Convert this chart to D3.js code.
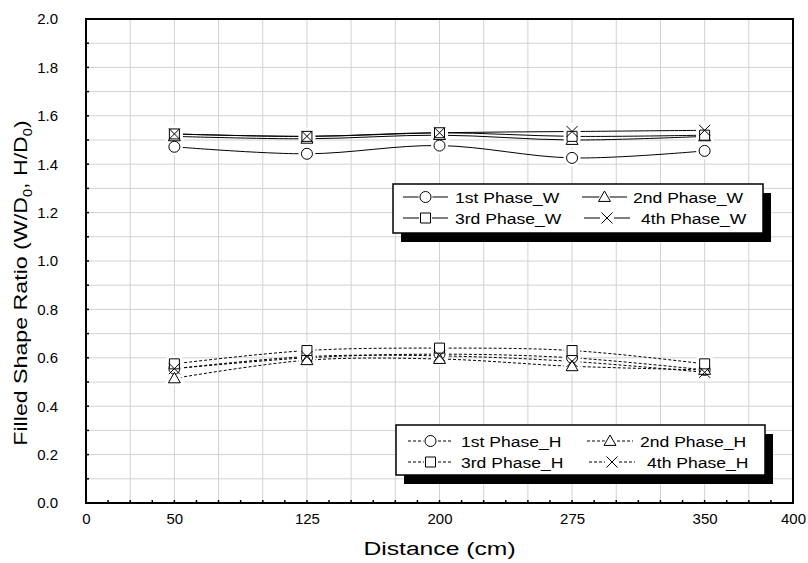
<!DOCTYPE html>
<html><head><meta charset="utf-8">
<script src="https://cdn.jsdelivr.net/npm/d3@7"></script>
<style>body{margin:0;background:#fff}</style>
</head><body>
<svg id="chart" width="808" height="563"></svg>
<script>
const distances = [50, 125, 200, 275, 350];
const phaseW1 = [1.472, 1.443, 1.477, 1.426, 1.455];
const phaseW2 = [1.515, 1.505, 1.520, 1.500, 1.515];
const phaseW3 = [1.525, 1.515, 1.530, 1.515, 1.520];
const phaseW4 = [1.525, 1.515, 1.530, 1.535, 1.540];
const phaseH1 = [0.555, 0.600, 0.615, 0.600, 0.550];
const phaseH2 = [0.515, 0.590, 0.595, 0.565, 0.550];
const phaseH3 = [0.575, 0.630, 0.640, 0.630, 0.575];
const phaseH4 = [0.555, 0.605, 0.608, 0.585, 0.540];
const seriesNames = ["1st Phase_W","2nd Phase_W","3rd Phase_W","4th Phase_W","1st Phase_H","2nd Phase_H","3rd Phase_H","4th Phase_H"];
const xTickLabels = [0, 50, 125, 200, 275, 350, 400];
const yTickLabels = [0.0, 0.2, 0.4, 0.6, 0.8, 1.0, 1.2, 1.4, 1.6, 1.8, 2.0];

const svg = d3.select("#chart");
const L = 86, R = 793, T = 19, B = 503;
const x = d3.scaleLinear().domain([0, 400]).range([L, R]);
const y = d3.scaleLinear().domain([0, 2]).range([B, T]);
const FONT = "Liberation Sans, Arial, sans-serif";

// grid
const g = svg.append("g");
g.selectAll(".vg").data(d3.range(25, 400, 25)).join("line")
  .attr("x1", d => x(d)).attr("x2", d => x(d)).attr("y1", T).attr("y2", B)
  .attr("stroke", "#d2d2d2").attr("stroke-width", 1);
g.selectAll(".hg").data(d3.range(1, 20).map(i => i / 10)).join("line")
  .attr("y1", d => y(d)).attr("y2", d => y(d)).attr("x1", L).attr("x2", R)
  .attr("stroke", "#d2d2d2").attr("stroke-width", 1);

// axes
const xAxis = d3.axisBottom(x).tickValues(xTickLabels).tickFormat(d3.format("d")).tickSize(0).tickPadding(10);
const xa = svg.append("g").attr("transform", `translate(0,${B})`).call(xAxis);
xa.select(".domain").remove();
xa.selectAll("text").attr("font-family", FONT).attr("font-size", 15).attr("fill", "#000");
const yAxis = d3.axisLeft(y).tickValues(yTickLabels).tickFormat(d3.format(".1f")).tickSize(0).tickPadding(28);
const ya = svg.append("g").attr("transform", `translate(${L},0)`).call(yAxis);
ya.select(".domain").remove();
ya.selectAll("text").attr("font-family", FONT).attr("font-size", 15).attr("fill", "#000");

// small inner ticks
svg.append("g").selectAll("line").data(d3.range(1, 32).map(i => i * 12.5)).join("line")
  .attr("x1", d => x(d)).attr("x2", d => x(d)).attr("y1", B).attr("y2", B - 3)
  .attr("stroke", "#000").attr("stroke-width", 1.5);
svg.append("g").selectAll("line").data(d3.range(1, 20).map(i => i / 10)).join("line")
  .attr("y1", d => y(d)).attr("y2", d => y(d)).attr("x1", L).attr("x2", L + 3)
  .attr("stroke", "#000").attr("stroke-width", 1.5);

svg.append("rect").attr("x", L).attr("y", T).attr("width", R - L).attr("height", B - T)
  .attr("fill", "none").attr("stroke", "#000").attr("stroke-width", 2);

// titles
svg.append("text").attr("transform", `translate(${(L + R) / 2},555) scale(1.3,1)`).attr("text-anchor", "middle")
  .attr("font-family", FONT).attr("font-size", 19).text("Distance (cm)");
const yt = svg.append("text").attr("transform", `translate(27,${(T + B) / 2 + 22}) rotate(-90) scale(1.22,1)`)
  .attr("text-anchor", "middle").attr("font-family", FONT).attr("font-size", 19);
yt.append("tspan").text("Filled Shape Ratio (W/D");
yt.append("tspan").attr("font-size", 12).attr("dy", 5).text("0");
yt.append("tspan").attr("dy", -5).text(", H/D");
yt.append("tspan").attr("font-size", 12).attr("dy", 5).text("0");
yt.append("tspan").attr("dy", -5).text(")");

// markers
function markerPath(type, s) {
  if (type === "circle") return d3.symbol(d3.symbolCircle, Math.PI * s * s)();
  if (type === "square") return `M${-s},${-s}H${s}V${s}H${-s}Z`;
  if (type === "triangle") return `M0,${-s * 1.15}L${s * 1.15},${s * 0.85}L${-s * 1.15},${s * 0.85}Z`;
  if (type === "x") return `M${-s},${-s}L${s},${s}M${-s},${s}L${s},${-s}`;
}
const types = ["circle", "triangle", "square", "x"];
const allSeries = [phaseW1, phaseW2, phaseW3, phaseW4, phaseH1, phaseH2, phaseH3, phaseH4].map((vals, i) => ({
  name: seriesNames[i], type: types[i % 4], dashed: i >= 4,
  pts: distances.map((d, j) => [d, vals[j]])
}));

const line = d3.line().x(d => x(d[0])).y(d => y(d[1])).curve(d3.curveCatmullRom.alpha(0.5));
svg.append("g").selectAll("path").data(allSeries).join("path")
  .attr("d", d => line(d.pts)).attr("fill", "none").attr("stroke", "#000").attr("stroke-width", 1)
  .attr("stroke-dasharray", d => d.dashed ? "3,2" : null);

const sizes = {circle: 5.5, square: 5, triangle: 5.2, x: 5.5};
// halos
const halo = svg.append("g");
allSeries.forEach(s => {
  halo.selectAll(null).data(s.pts).join("path")
    .attr("transform", d => `translate(${x(d[0])},${y(d[1])})`)
    .attr("d", markerPath(s.type === "x" ? "square" : s.type, sizes[s.type]))
    .attr("fill", "#fff").attr("stroke", "#fff").attr("stroke-width", 6);
});
const mk = svg.append("g");
allSeries.forEach(s => {
  mk.selectAll(null).data(s.pts).join("path")
    .attr("transform", d => `translate(${x(d[0])},${y(d[1])})`)
    .attr("d", markerPath(s.type, sizes[s.type]))
    .attr("fill", s.type === "x" ? "none" : "#fff").attr("stroke", "#000").attr("stroke-width", 1);
});

// legends
function legend(bx, by, bw, bh, items, rowYs, cols) {
  const lg = svg.append("g");
  lg.append("rect").attr("x", bx + 8).attr("y", by + 9).attr("width", bw).attr("height", bh).attr("fill", "#000");
  lg.append("rect").attr("x", bx).attr("y", by).attr("width", bw).attr("height", bh)
    .attr("fill", "#fff").attr("stroke", "#000").attr("stroke-width", 1.5);
  items.forEach((s, i) => {
    const c = cols[i];
    const yy = rowYs[Math.floor(i / 2)];
    lg.append("line").attr("x1", c.l0).attr("x2", c.l1).attr("y1", yy).attr("y2", yy)
      .attr("stroke", "#000").attr("stroke-width", 1).attr("stroke-dasharray", s.dashed ? "3,2" : null);
    const mx = (c.l0 + c.l1) / 2;
    lg.append("path").attr("transform", `translate(${mx},${yy})`)
      .attr("d", markerPath(s.type === "x" ? "square" : s.type, sizes[s.type])).attr("fill", "#fff").attr("stroke", "#fff").attr("stroke-width", 3);
    lg.append("path").attr("transform", `translate(${mx},${yy})`)
      .attr("d", markerPath(s.type, sizes[s.type])).attr("fill", s.type === "x" ? "none" : "#fff").attr("stroke", "#000");
    lg.append("text").attr("transform", `translate(${c.t},${yy + 5.5}) scale(1.17,1)`)
      .attr("font-family", FONT).attr("font-size", 15).text(s.name);
  });
}
legend(393, 184, 370, 49, allSeries.slice(0, 4), [197, 218], [
  {l0: 403, l1: 448, t: 455}, {l0: 582, l1: 627, t: 633},
  {l0: 403, l1: 448, t: 455}, {l0: 584, l1: 630, t: 641}]);
legend(396, 425, 369, 50, allSeries.slice(4, 8), [441, 462], [
  {l0: 408, l1: 453, t: 461}, {l0: 587, l1: 633, t: 640},
  {l0: 408, l1: 453, t: 461}, {l0: 589, l1: 635, t: 647}]);
</script>
</body></html>
